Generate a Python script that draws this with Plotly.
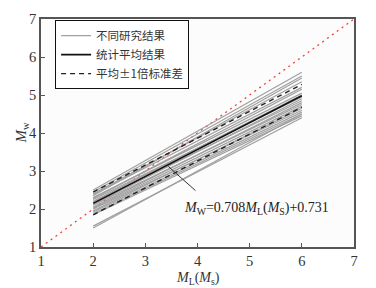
import plotly.graph_objects as go

# Data
x_range = [2, 6]
study_start = [2.50, 2.45, 2.40, 2.38, 2.35, 2.30, 2.28, 2.25, 2.20, 2.18, 2.12,
               2.10, 2.05, 2.02, 2.00, 1.95, 1.92, 1.88, 1.85, 1.55, 1.50]
study_end = [5.60, 5.50, 5.35, 5.20, 5.45, 5.05, 5.15, 4.95, 5.00, 4.85, 4.90,
             4.75, 4.80, 4.70, 4.60, 4.65, 4.55, 4.50, 4.45, 4.40, 4.50]
slope = 0.708
intercept = 0.731
sigma = 0.30
diag = [1, 7]
ticks = [1, 2, 3, 4, 5, 6, 7]

mean_y = [slope * x + intercept for x in x_range]
upper_y = [v + sigma for v in mean_y]
lower_y = [v - sigma for v in mean_y]

fig = go.Figure()

fig.add_trace(go.Scatter(x=diag, y=diag, mode="lines",
                         line=dict(color="#f04040", width=1.3, dash="2px,4px"),
                         showlegend=False, hoverinfo="skip"))

for i, (s, e) in enumerate(zip(study_start, study_end)):
    fig.add_trace(go.Scatter(x=x_range, y=[s, e], mode="lines",
                             line=dict(color="#a0a0a0", width=1.2),
                             name="不同研究结果", showlegend=(i == 0),
                             legendgroup="a"))

fig.add_trace(go.Scatter(x=x_range, y=mean_y, mode="lines",
                         line=dict(color="#111111", width=1.6),
                         name="统计平均结果"))
fig.add_trace(go.Scatter(x=x_range, y=upper_y, mode="lines",
                         line=dict(color="#222222", width=1.4, dash="5px,4px"),
                         name="平均±1倍标准差", legendgroup="d"))
fig.add_trace(go.Scatter(x=x_range, y=lower_y, mode="lines",
                         line=dict(color="#222222", width=1.4, dash="5px,4px"),
                         name="平均±1倍标准差", legendgroup="d", showlegend=False))

fig.add_annotation(x=3.44, y=3.12, ax=3.99, ay=2.45, xref="x", yref="y",
                   axref="x", ayref="y", showarrow=True, arrowhead=0,
                   arrowwidth=1, arrowcolor="#333333", text="")
fig.add_annotation(x=3.7, y=2.02, xref="x", yref="y", xanchor="left",
                   showarrow=False,
                   text="<i>M</i><sub>W</sub>=0.708<i>M</i><sub>L</sub>(<i>M</i><sub>S</sub>)+0.731",
                   font=dict(family="Liberation Serif", size=14, color="#222222"))

# axis titles as paper annotations
fig.add_annotation(x=0.5, y=-0.138, xref="paper", yref="paper", yanchor="middle",
                   showarrow=False,
                   text="<i>M</i><sub>L</sub>(<i>M</i><sub>s</sub>)",
                   font=dict(family="Liberation Serif", size=14, color="#333333"))
fig.add_annotation(x=-0.062, y=0.5, xref="paper", yref="paper", textangle=-90,
                   showarrow=False, xanchor="center",
                   text="<i>M</i><sub>w</sub>",
                   font=dict(family="Liberation Serif", size=15, color="#333333"))

axis_common = dict(range=[1, 7], tickvals=ticks, showline=True, linecolor="#555555",
                   linewidth=1.5, mirror=True, ticks="inside", ticklen=4,
                   tickcolor="#555555", showgrid=False, zeroline=False,
                   automargin=False,
                   tickfont=dict(family="Liberation Serif", size=14.5, color="#333333"))

fig.update_layout(
    width=368, height=280,
    margin=dict(l=33, r=22, t=11, b=41),
    paper_bgcolor="white", plot_bgcolor="#fcfcfc",
    xaxis=dict(**axis_common),
    yaxis=dict(**axis_common),
    legend=dict(x=0.045, y=0.995, xanchor="left", yanchor="top",
                bordercolor="#111111", borderwidth=1, bgcolor="white",
                font=dict(family="Noto Sans CJK SC", size=11.5, color="#333333"),
                tracegroupgap=0, itemwidth=30),
    showlegend=True,
)

fig.write_html("out.html")
